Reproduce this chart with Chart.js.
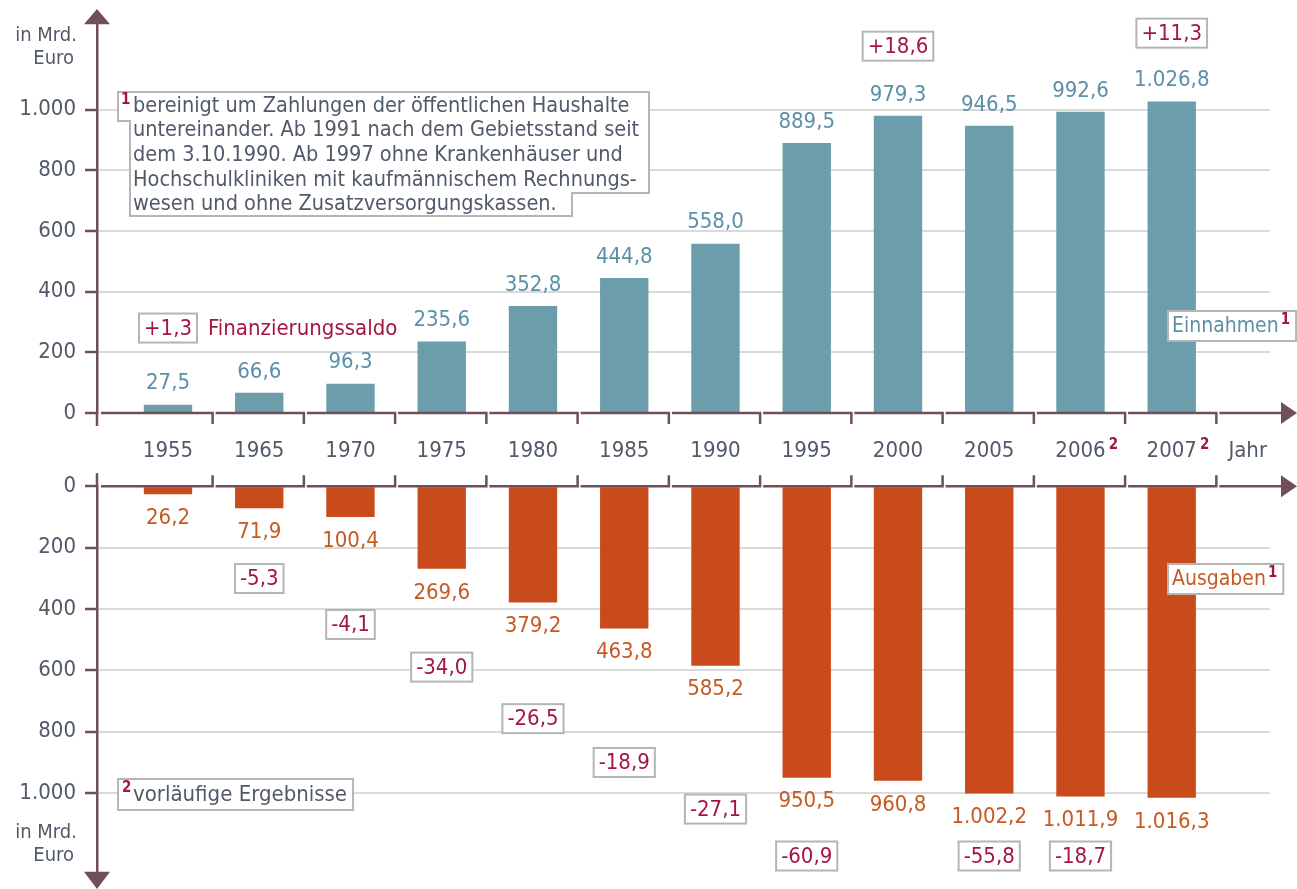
<!DOCTYPE html>
<html lang="de">
<head>
<meta charset="utf-8">
<title>Einnahmen und Ausgaben der öffentlichen Haushalte</title>
<script src="https://cdn.jsdelivr.net/npm/chart.js@4.4.1/dist/chart.umd.min.js"></script>
<style>
  html, body { margin: 0; padding: 0; background: #fff; }
  #wrap { position: relative; width: 1297px; height: 889px; overflow: hidden; }
  #oben { position: absolute; left: 0; top: 0; }
  #unten { position: absolute; left: 0; top: 464px; }
</style>
</head>
<body>
<div id="wrap">
  <canvas id="oben" width="1297" height="470"></canvas>
  <canvas id="unten" width="1297" height="432"></canvas>
</div>
<script>
// Werte (Mrd. Euro)
const jahre = ['1955', '1965', '1970', '1975', '1980', '1985', '1990', '1995', '2000', '2005', '2006', '2007'];
const fussnote = ['', '', '', '', '', '', '', '', '', '', '2', '2'];
const einnahmen = [27.5, 66.6, 96.3, 235.6, 352.8, 444.8, 558.0, 889.5, 979.3, 946.5, 992.6, 1026.8];
const ausgaben = [26.2, 71.9, 100.4, 269.6, 379.2, 463.8, 585.2, 950.5, 960.8, 1002.2, 1011.9, 1016.3];
const saldo = [1.3, -5.3, -4.1, -34.0, -26.5, -18.9, -27.1, -60.9, 18.6, -55.8, -18.7, 11.3];
const yTicks = [0, 200, 400, 600, 800, 1000];

// Lage der Saldo-Kästen in Achseneinheiten der jeweiligen Hälfte (gestaffelt wie im Original)
const saldoLage = [280, 301, 451, 590, 758, 901, 1053, 1206, 1209, 1206, 1206, 1252];

const SCHRIFT = "'DejaVu Sans Condensed', 'DejaVu Sans', sans-serif";
const ACHSE = '#6f4f5a';
const TEXT = '#515a69';
const TUERKIS = '#6b9dab';
const TUERKIS_TEXT = '#5b90a8';
const ROT = '#c94a1b';
const ROT_TEXT = '#c65a22';
const KARMIN = '#a3173f';
const RAHMEN = '#b5b5b5';
const GITTER = '#dadada';
const GROESSE = 22;
const LABEL_PAD = 25;

function fmt(v) {
  const [g, d] = Math.abs(v).toFixed(1).split('.');
  return g.replace(/\B(?=(\d{3})+(?!\d))/g, '.') + ',' + d;
}

function schrift(size, weight) {
  return (weight || 'normal') + ' ' + size + 'px ' + SCHRIFT;
}

// Kasten mit grauem Rahmen, Text zentriert
function kasten(ctx, text, cx, cy, farbe) {
  ctx.font = schrift(GROESSE);
  const w = ctx.measureText(text).width;
  const bw = w + 10, bh = 29;
  ctx.fillStyle = '#fff';
  ctx.fillRect(cx - bw / 2, cy - bh / 2, bw, bh);
  ctx.strokeStyle = RAHMEN;
  ctx.lineWidth = 2;
  ctx.strokeRect(cx - bw / 2, cy - bh / 2, bw, bh);
  ctx.fillStyle = farbe;
  ctx.textAlign = 'center';
  ctx.textBaseline = 'middle';
  ctx.fillText(text, cx, cy + 1);
  return { links: cx - bw / 2, rechts: cx + bw / 2 };
}

function hoch(ctx, text, x, y) {
  ctx.font = schrift(15, 'bold');
  ctx.fillStyle = KARMIN;
  ctx.textAlign = 'left';
  ctx.textBaseline = 'middle';
  ctx.fillText(text, x, y);
}

// Legendenkasten: Text + hochgestellte 1
function legende(ctx, text, x, cy, farbe) {
  ctx.font = schrift(21);
  const w = ctx.measureText(text).width;
  ctx.font = schrift(15, 'bold');
  const w1 = ctx.measureText('1').width;
  const bw = w + w1 + 12, bh = 30;
  ctx.fillStyle = '#fff';
  ctx.fillRect(x, cy - bh / 2, bw, bh);
  ctx.strokeStyle = RAHMEN;
  ctx.lineWidth = 2;
  ctx.strokeRect(x, cy - bh / 2, bw, bh);
  ctx.font = schrift(21);
  ctx.fillStyle = farbe;
  ctx.textAlign = 'left';
  ctx.textBaseline = 'middle';
  ctx.fillText(text, x + 4, cy + 1);
  hoch(ctx, '1', x + 6 + w, cy - 6);
}

function einheit(ctx, y) {
  ctx.font = schrift(20);
  ctx.fillStyle = TEXT;
  ctx.textAlign = 'right';
  ctx.textBaseline = 'middle';
  ctx.fillText('in Mrd.', 77, y);
  ctx.fillText('Euro', 74, y + 23);
}

// Nulllinie als Klammern je Kategorie, mit Pfeil rechts
function nullLinie(ctx, xs, ys, richtung) {
  const y0 = ys.getPixelForValue(0);
  const n = jahre.length;
  ctx.strokeStyle = ACHSE;
  ctx.lineWidth = 2.5;
  ctx.lineCap = 'butt';
  ctx.beginPath();
  ctx.moveTo(xs.left, y0);
  ctx.lineTo(xs.left, y0 + richtung * 13);
  ctx.stroke();
  for (let i = 0; i <= n; i++) {
    const a = i === 0 ? xs.left + 4 : xs.getPixelForValue(i - 0.5) + 2;
    const b = i === n ? 1284 : xs.getPixelForValue(i + 0.5) - 1;
    ctx.beginPath();
    ctx.moveTo(a, y0);
    ctx.lineTo(b, y0);
    if (i < n) ctx.lineTo(b, y0 + richtung * 11);
    ctx.stroke();
  }
  ctx.fillStyle = ACHSE;
  ctx.beginPath();
  ctx.moveTo(1297, y0);
  ctx.lineTo(1281, y0 - 11);
  ctx.lineTo(1281, y0 + 11);
  ctx.closePath();
  ctx.fill();
}

function yPfeil(ctx, x, basis, spitze) {
  ctx.fillStyle = ACHSE;
  ctx.beginPath();
  ctx.moveTo(x, spitze);
  ctx.lineTo(x - 13, basis);
  ctx.lineTo(x + 13, basis);
  ctx.closePath();
  ctx.fill();
}

const zeichnenOben = {
  id: 'zeichnenOben',
  afterDraw(chart) {
    const ctx = chart.ctx;
    const xs = chart.scales.x, ys = chart.scales.y;
    ctx.save();
    nullLinie(ctx, xs, ys, 1);
    yPfeil(ctx, xs.left, ys.top + 2, 9);
    einheit(ctx, 36);

    // Werte über den Säulen
    const meta = chart.getDatasetMeta(0);
    ctx.font = schrift(GROESSE);
    ctx.fillStyle = TUERKIS_TEXT;
    ctx.textAlign = 'center';
    ctx.textBaseline = 'middle';
    meta.data.forEach((bar, i) => ctx.fillText(fmt(einnahmen[i]), bar.x, bar.y - 21));

    // Hochgestellte Fußnoten an den Jahreszahlen, Achsentitel "Jahr"
    const labelY = xs.top + LABEL_PAD + GROESSE * 0.6;
    jahre.forEach((j, i) => {
      if (!fussnote[i]) return;
      ctx.font = schrift(GROESSE);
      const w = ctx.measureText(j).width;
      hoch(ctx, fussnote[i], xs.getPixelForValue(i) + w / 2 + 3, labelY - 6);
    });
    ctx.font = schrift(GROESSE);
    ctx.fillStyle = TEXT;
    ctx.textAlign = 'center';
    ctx.textBaseline = 'middle';
    ctx.fillText('Jahr', xs.getPixelForValue(jahre.length - 1) + 76, labelY);

    // Positive Finanzierungssalden
    saldo.forEach((s, i) => {
      if (s < 0) return;
      const cy = ys.getPixelForValue(saldoLage[i]);
      const k = kasten(ctx, '+' + fmt(s), xs.getPixelForValue(i), cy, KARMIN);
      if (i === 0) {
        ctx.font = schrift(GROESSE);
        ctx.fillStyle = KARMIN;
        ctx.textAlign = 'left';
        ctx.fillText('Finanzierungssaldo', k.rechts + 11, cy + 1);
      }
    });

    legende(ctx, 'Einnahmen', 1168, 326, TUERKIS_TEXT);

    // Fußnote 1
    ctx.fillStyle = '#fff';
    ctx.strokeStyle = RAHMEN;
    ctx.lineWidth = 2;
    ctx.beginPath();
    ctx.moveTo(118, 92);
    ctx.lineTo(649, 92);
    ctx.lineTo(649, 193);
    ctx.lineTo(572, 193);
    ctx.lineTo(572, 216);
    ctx.lineTo(130, 216);
    ctx.lineTo(130, 121);
    ctx.lineTo(118, 121);
    ctx.closePath();
    ctx.fill();
    ctx.stroke();
    hoch(ctx, '1', 121, 100);
    const zeilen = [
      'bereinigt um Zahlungen der öffentlichen Haushalte',
      'untereinander. Ab 1991 nach dem Gebietsstand seit',
      'dem 3.10.1990. Ab 1997 ohne Krankenhäuser und',
      'Hochschulkliniken mit kaufmännischem Rechnungs-',
      'wesen und ohne Zusatzversorgungskassen.'
    ];
    ctx.font = schrift(21.5);
    ctx.fillStyle = TEXT;
    ctx.textAlign = 'left';
    ctx.textBaseline = 'middle';
    zeilen.forEach((z, i) => ctx.fillText(z, 133, 106 + i * 24.7));
    ctx.restore();
  }
};

const zeichnenUnten = {
  id: 'zeichnenUnten',
  afterDraw(chart) {
    const ctx = chart.ctx;
    const xs = chart.scales.x, ys = chart.scales.y;
    ctx.save();
    nullLinie(ctx, xs, ys, -1);
    yPfeil(ctx, xs.left, ys.bottom - 2, 425);
    einheit(ctx, 369);

    const meta = chart.getDatasetMeta(0);
    ctx.font = schrift(GROESSE);
    ctx.fillStyle = ROT_TEXT;
    ctx.textAlign = 'center';
    ctx.textBaseline = 'middle';
    meta.data.forEach((bar, i) => ctx.fillText(fmt(ausgaben[i]), bar.x, bar.y + 24));

    saldo.forEach((s, i) => {
      if (s >= 0) return;
      kasten(ctx, '-' + fmt(s), xs.getPixelForValue(i), ys.getPixelForValue(saldoLage[i]), KARMIN);
    });

    legende(ctx, 'Ausgaben', 1168, 115, ROT_TEXT);

    // Fußnote 2
    ctx.font = schrift(GROESSE);
    const w = ctx.measureText('vorläufige Ergebnisse').width;
    ctx.fillStyle = '#fff';
    ctx.fillRect(118, 315, w + 21, 31);
    ctx.strokeStyle = RAHMEN;
    ctx.lineWidth = 2;
    ctx.strokeRect(118, 315, w + 21, 31);
    hoch(ctx, '2', 122, 324);
    ctx.font = schrift(GROESSE);
    ctx.fillStyle = TEXT;
    ctx.textAlign = 'left';
    ctx.textBaseline = 'middle';
    ctx.fillText('vorläufige Ergebnisse', 133, 331);
    ctx.restore();
  }
};

function xAchse(anzeigen) {
  return {
    type: 'linear',
    min: -0.778,
    max: 12.077,
    offset: false,
    display: anzeigen,
    border: { display: false },
    grid: { display: false, drawTicks: false, offset: false },
    afterBuildTicks: s => { s.ticks = jahre.map((_, i) => ({ value: i })); },
    afterFit: s => { s.height = anzeigen ? 57 : 0; },
    ticks: {
      padding: LABEL_PAD,
      maxRotation: 0,
      autoSkip: false,
      color: TEXT,
      font: { family: SCHRIFT, size: GROESSE },
      callback: v => jahre[v]
    }
  };
}

function yAchse(max, umgekehrt) {
  return {
    type: 'linear',
    min: 0,
    max: max,
    reverse: umgekehrt,
    border: { display: true, color: ACHSE, width: 2.5 },
    grid: {
      color: c => (c.tick && c.tick.value === 0 ? 'rgba(0,0,0,0)' : GITTER),
      lineWidth: 2,
      drawTicks: true,
      tickLength: 12,
      tickColor: ACHSE,
      tickWidth: 2.5
    },
    afterBuildTicks: s => { s.ticks = yTicks.map(v => ({ value: v })); },
    afterFit: s => { s.width = 97; },
    ticks: {
      padding: 9,
      color: TEXT,
      font: { family: SCHRIFT, size: GROESSE },
      callback: v => String(v).replace(/\B(?=(\d{3})+(?!\d))/g, '.')
    }
  };
}

const gemeinsam = {
  responsive: false,
  animation: false,
  events: [],
  plugins: { legend: { display: false }, tooltip: { enabled: false } }
};

new Chart(document.getElementById('oben'), {
  type: 'bar',
  data: {
    datasets: [{
      label: 'Einnahmen',
      data: einnahmen.map((v, i) => ({ x: i, y: v })),
      backgroundColor: TUERKIS,
      barPercentage: 0.53,
      categoryPercentage: 1
    }]
  },
  options: {
    ...gemeinsam,
    layout: { padding: { top: 22, right: 27, left: 0, bottom: 0 } },
    scales: { x: xAchse(true), y: yAchse(1288, false) }
  },
  plugins: [zeichnenOben]
});

new Chart(document.getElementById('unten'), {
  type: 'bar',
  data: {
    datasets: [{
      label: 'Ausgaben',
      data: ausgaben.map((v, i) => ({ x: i, y: v })),
      backgroundColor: ROT,
      barPercentage: 0.53,
      categoryPercentage: 1
    }]
  },
  options: {
    ...gemeinsam,
    layout: { padding: { top: 21, right: 27, left: 0, bottom: 21 } },
    scales: { x: xAchse(false), y: yAchse(1264, true) }
  },
  plugins: [zeichnenUnten]
});
</script>
</body>
</html>
